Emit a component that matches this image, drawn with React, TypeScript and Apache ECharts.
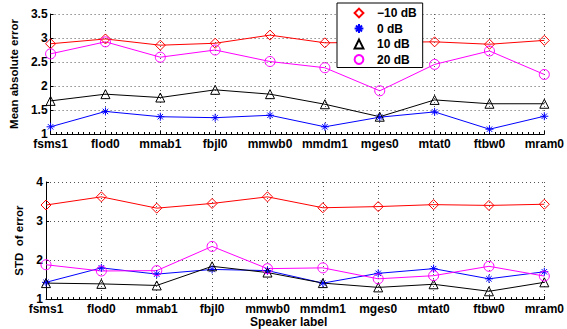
import React, { useEffect, useRef } from "react";
import * as echarts from "echarts";

const categories = ["fsms1", "flod0", "mmab1", "fbjl0", "mmwb0", "mmdm1", "mges0", "mtat0", "ftbw0", "mram0"];
const seriesNames = ["\u221210 dB", "0 dB", "10 dB", "20 dB"];

const maeM10 = [2.88, 2.98, 2.85, 2.89, 3.06, 2.9, 2.91, 2.92, 2.87, 2.95];
const mae0 = [1.15, 1.47, 1.36, 1.34, 1.39, 1.15, 1.35, 1.46, 1.1, 1.37];
const mae10 = [1.69, 1.83, 1.76, 1.92, 1.83, 1.62, 1.36, 1.71, 1.63, 1.63];
const mae20 = [2.67, 2.92, 2.6, 2.75, 2.51, 2.38, 1.9, 2.45, 2.73, 2.24];

const stdM10 = [3.41, 3.62, 3.33, 3.45, 3.62, 3.34, 3.37, 3.42, 3.4, 3.43];
const std0 = [1.43, 1.8, 1.64, 1.76, 1.73, 1.41, 1.66, 1.78, 1.52, 1.7];
const std10 = [1.41, 1.39, 1.35, 1.84, 1.68, 1.41, 1.3, 1.38, 1.2, 1.43];
const std20 = [1.88, 1.72, 1.73, 2.35, 1.78, 1.8, 1.52, 1.6, 1.84, 1.59];

const maeTicks = { min: 1, max: 3.5, interval: 0.5 };
const stdTicks = { min: 1, max: 4, interval: 1 };

const FONT = "'Liberation Sans', Arial, Helvetica, sans-serif";
const ASTERISK = "path://M5,0L5,10M0,5L10,5M1.6,1.6L8.4,8.4M8.4,1.6L1.6,8.4";

const styles = [
  { color: "#ff0000", symbol: "diamond", size: 10 },
  { color: "#0000ff", symbol: ASTERISK, size: 8 },
  { color: "#000000", symbol: "triangle", size: 9 },
  { color: "#ff00ff", symbol: "circle", size: 10 },
];

export default function App() {
  const ref = useRef<HTMLDivElement>(null);
  useEffect(() => {
    if (!ref.current) return;
    const chart = echarts.init(ref.current, undefined, { renderer: "svg" });
    const toPairs = (arr: number[]) => arr.map((v, i) => [i + 1, v]);
    const mkSeries = (arr: number[], k: number, axis: number) => ({
      type: "line",
      name: seriesNames[k],
      xAxisIndex: axis,
      yAxisIndex: axis,
      data: toPairs(arr),
      symbol: styles[k].symbol,
      symbolSize: styles[k].size,
      showAllSymbol: true,
      lineStyle: { color: styles[k].color, width: 1 },
      itemStyle: { color: "rgba(0,0,0,0)", borderColor: styles[k].color, borderWidth: 1 },
      emphasis: { disabled: true },
    });
    const grid = "#555";
    const mkX = (idx: number) => ({
      type: "value",
      gridIndex: idx,
      min: 1,
      max: 10,
      interval: 1,
      axisLine: { show: true, lineStyle: { color: "#000", width: 1 } },
      axisTick: { show: true, inside: true, length: 3, lineStyle: { color: "#000" } },
      minorTick: { show: true, splitNumber: 10, length: 2, lineStyle: { color: "#000" } },
      splitLine: { show: true, lineStyle: { color: grid, type: [1, 3], width: 1 } },
      axisLabel: {
        formatter: (v: number) => categories[Math.round(v) - 1] ?? "",
        color: "#000",
        fontFamily: FONT,
        fontWeight: "bold",
        fontSize: 12,
        margin: 4,
      },
      ...(idx === 1
        ? {
            name: "Speaker label",
            nameLocation: "middle",
            nameGap: 12,
            nameTextStyle: { color: "#000", fontFamily: FONT, fontWeight: "bold", fontSize: 12, padding: [0, 13, 0, 0] },
          }
        : {}),
    });
    const mkY = (idx: number, t: any, name: string, gap: number) => ({
      type: "value",
      gridIndex: idx,
      min: t.min,
      max: t.max,
      interval: t.interval,
      name,
      nameLocation: "middle",
      nameRotate: 90,
      nameGap: gap,
      nameTextStyle: { color: "#000", fontFamily: FONT, fontWeight: "bold", fontSize: 11.5 },
      axisLine: { show: true, lineStyle: { color: "#000", width: 1 } },
      axisTick: { show: true, inside: true, length: 3, lineStyle: { color: "#000" } },
      splitLine: { show: true, lineStyle: { color: grid, type: [1, 3], width: 1 } },
      axisLabel: { color: "#000", fontFamily: FONT, fontWeight: "bold", fontSize: 12, margin: 3 },
    });
    chart.setOption({
      animation: false,
      backgroundColor: "#fff",
      grid: [
        { left: 46, top: 14, width: 499, height: 120 },
        { left: 46, top: 182, width: 499, height: 120 },
      ],
      xAxis: [mkX(0), mkX(1)],
      yAxis: [mkY(0, maeTicks, "Mean absolute error", 21), mkY(1, stdTicks, "STD  of error", 14)],
      legend: {
        orient: "vertical",
        left: 337,
        top: 3,
        padding: [4, 6, 2, 9],
        itemWidth: 26,
        itemHeight: 11,
        itemGap: 3.5,
        backgroundColor: "#fff",
        borderColor: "#000",
        borderWidth: 1,
        lineStyle: { width: 0, opacity: 0 },
        selectedMode: false,
        textStyle: { color: "#000", fontFamily: FONT, fontWeight: "bold", fontSize: 12, lineHeight: 12 },
        data: seriesNames,
        z: 10,
      },
      series: [
        mkSeries(maeM10, 0, 0),
        mkSeries(mae0, 1, 0),
        mkSeries(mae10, 2, 0),
        mkSeries(mae20, 3, 0),
        mkSeries(stdM10, 0, 1),
        mkSeries(std0, 1, 1),
        mkSeries(std10, 2, 1),
        mkSeries(std20, 3, 1),
      ],
    });
    return () => chart.dispose();
  }, []);
  return <div ref={ref} style={{ position: "fixed", left: 0, top: 0, width: 567, height: 329 }} />;
}
